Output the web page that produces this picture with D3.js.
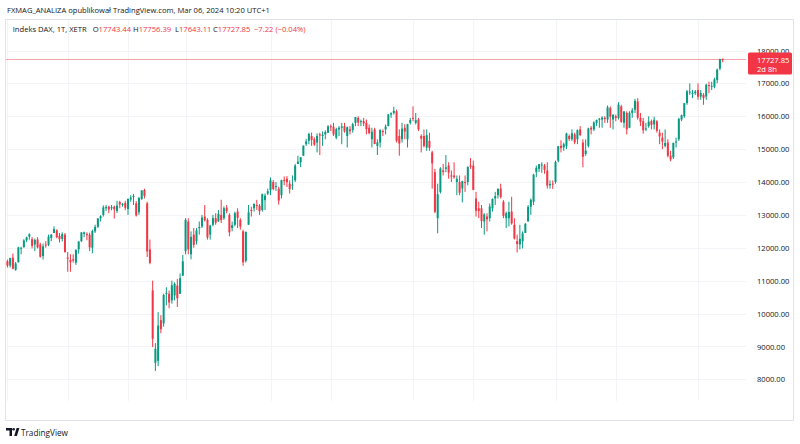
<!DOCTYPE html>
<html><head><meta charset="utf-8">
<script src="https://cdn.jsdelivr.net/npm/d3@7/dist/d3.min.js"></script>
<style>
html,body{margin:0;padding:0;background:#fff;}
svg{display:block;font-family:"Open Sans","Noto Sans",sans-serif;}
</style></head>
<body>
<svg id="c" width="800" height="444"></svg>
<script>
// ---------- DATA (weekly DAX candles, XETR) ----------
const weeks = [
"2019-03-04","2019-03-11","2019-03-18","2019-03-25","2019-04-01","2019-04-08","2019-04-15","2019-04-22","2019-04-29","2019-05-06","2019-05-13","2019-05-20","2019-05-27","2019-06-03","2019-06-10","2019-06-17","2019-06-24","2019-07-01","2019-07-08","2019-07-15","2019-07-22","2019-07-29","2019-08-05","2019-08-12","2019-08-19","2019-08-26","2019-09-02","2019-09-09","2019-09-16","2019-09-23","2019-09-30","2019-10-07","2019-10-14","2019-10-21","2019-10-28","2019-11-04","2019-11-11","2019-11-18","2019-11-25","2019-12-02","2019-12-09","2019-12-16","2019-12-23","2019-12-30",
"2020-01-06","2020-01-13","2020-01-20","2020-01-27","2020-02-03","2020-02-10","2020-02-17","2020-02-24","2020-03-02","2020-03-09","2020-03-16","2020-03-23","2020-03-30","2020-04-06","2020-04-13","2020-04-20","2020-04-27","2020-05-04","2020-05-11","2020-05-18","2020-05-25","2020-06-01","2020-06-08","2020-06-15","2020-06-22","2020-06-29","2020-07-06","2020-07-13","2020-07-20","2020-07-27","2020-08-03","2020-08-10","2020-08-17","2020-08-24","2020-08-31","2020-09-07","2020-09-14","2020-09-21","2020-09-28","2020-10-05","2020-10-12","2020-10-19","2020-10-26","2020-11-02","2020-11-09","2020-11-16","2020-11-23","2020-11-30","2020-12-07","2020-12-14","2020-12-21","2020-12-28",
"2021-01-04","2021-01-11","2021-01-18","2021-01-25","2021-02-01","2021-02-08","2021-02-15","2021-02-22","2021-03-01","2021-03-08","2021-03-15","2021-03-22","2021-03-29","2021-04-05","2021-04-12","2021-04-19","2021-04-26","2021-05-03","2021-05-10","2021-05-17","2021-05-24","2021-05-31","2021-06-07","2021-06-14","2021-06-21","2021-06-28","2021-07-05","2021-07-12","2021-07-19","2021-07-26","2021-08-02","2021-08-09","2021-08-16","2021-08-23","2021-08-30","2021-09-06","2021-09-13","2021-09-20","2021-09-27","2021-10-04","2021-10-11","2021-10-18","2021-10-25","2021-11-01","2021-11-08","2021-11-15","2021-11-22","2021-11-29","2021-12-06","2021-12-13","2021-12-20","2021-12-27",
"2022-01-03","2022-01-10","2022-01-17","2022-01-24","2022-01-31","2022-02-07","2022-02-14","2022-02-21","2022-02-28","2022-03-07","2022-03-14","2022-03-21","2022-03-28","2022-04-04","2022-04-11","2022-04-18","2022-04-25","2022-05-02","2022-05-09","2022-05-16","2022-05-23","2022-05-30","2022-06-06","2022-06-13","2022-06-20","2022-06-27","2022-07-04","2022-07-11","2022-07-18","2022-07-25","2022-08-01","2022-08-08","2022-08-15","2022-08-22","2022-08-29","2022-09-05","2022-09-12","2022-09-19","2022-09-26","2022-10-03","2022-10-10","2022-10-17","2022-10-24","2022-10-31","2022-11-07","2022-11-14","2022-11-21","2022-11-28","2022-12-05","2022-12-12","2022-12-19","2022-12-26",
"2023-01-02","2023-01-09","2023-01-16","2023-01-23","2023-01-30","2023-02-06","2023-02-13","2023-02-20","2023-02-27","2023-03-06","2023-03-13","2023-03-20","2023-03-27","2023-04-03","2023-04-10","2023-04-17","2023-04-24","2023-05-01","2023-05-08","2023-05-15","2023-05-22","2023-05-29","2023-06-05","2023-06-12","2023-06-19","2023-06-26","2023-07-03","2023-07-10","2023-07-17","2023-07-24","2023-07-31","2023-08-07","2023-08-14","2023-08-21","2023-08-28","2023-09-04","2023-09-11","2023-09-18","2023-09-25","2023-10-02","2023-10-09","2023-10-16","2023-10-23","2023-10-30","2023-11-06","2023-11-13","2023-11-20","2023-11-27","2023-12-04","2023-12-11","2023-12-18","2023-12-25",
"2024-01-01","2024-01-08","2024-01-15","2024-01-22","2024-01-29","2024-02-05","2024-02-12","2024-02-19","2024-02-26","2024-03-04"
];
const opens = [
11590,11460,11700,11330,11560,11990,12020,12230,12340,12260,12100,12250,12100,11750,12100,12090,12300,12450,12530,12360,12270,12400,11700,11630,11650,11550,11950,12200,12420,12420,12400,12000,12500,12640,12900,13000,13200,13250,13200,13250,13120,13390,13320,13360,
13180,13470,13560,13350,13080,13480,13760,13350,11950,10700,8500,8560,9800,9700,10600,10600,10400,10550,10850,10600,11150,11900,12800,11800,12400,12200,12600,12650,12950,12850,12400,12700,12900,12800,13000,12900,13220,13000,12600,12700,13100,12850,12500,11600,12700,13150,13200,13300,13280,13150,13450,13650,
13750,14000,13850,13800,13600,14060,14100,13950,13900,14050,14550,14600,14800,15150,15250,15400,15300,15200,15450,15400,15450,15500,15700,15680,15350,15600,15650,15700,15400,15600,15580,15800,15950,15850,15850,15800,15650,15300,15600,15100,15200,15550,15600,15700,16050,16100,16150,15400,15300,15650,15300,15800,
15950,15800,15900,15400,15400,15050,15250,14900,14300,12900,13700,14350,14400,14500,14200,14200,14000,14000,13800,14000,14000,14500,14500,13500,13200,13200,12800,12950,12900,13200,13500,13600,13800,13400,12900,12900,13100,12700,12200,12100,12200,12450,12800,13250,13400,14300,14400,14500,14500,14350,13900,13950,
14000,14650,15100,15050,15100,15400,15300,15450,15300,15600,15200,14850,15100,15650,15600,15800,15900,15900,15950,15900,16250,15900,16000,15950,16300,15800,16100,15650,16100,16200,16450,15950,15850,15600,15700,15850,15750,15850,15500,15350,15100,15200,14800,14750,15200,15300,15900,16000,16400,16750,16700,16700,
16800,16600,16650,16600,16950,16900,16900,17100,17450,17743.44
];
const highs = [
11640,11700,11825,11570,12030,12030,12260,12340,12440,12330,12280,12320,12150,12130,12200,12400,12420,12650,12560,12450,12470,12450,11870,11800,11800,11950,12200,12470,12490,12470,12460,12550,12700,12900,12990,13290,13300,13280,13300,13280,13430,13430,13360,13430,
13500,13600,13640,13420,13550,13750,13795,13400,12250,11000,9100,10040,9950,10600,10800,10700,11000,10950,11050,11220,11780,12900,12900,12500,12600,12600,12800,13000,13300,12900,12700,13000,13050,13150,13460,13260,13300,13050,12800,13100,13200,12900,12550,12500,13300,13250,13350,13460,13330,13650,13650,13800,
14140,14060,14000,13860,14070,14170,14180,14050,14200,14550,14800,14760,15110,15310,15500,15500,15360,15480,15500,15540,15570,15730,15750,15800,15650,15700,15800,15800,15690,15700,15800,15980,16000,15900,15950,15900,15750,15650,15650,15300,15600,15600,15750,16070,16120,16290,16200,15600,15800,15760,15770,15950,
16300,16100,15950,15450,15600,15600,15500,14950,14400,13950,14450,14550,14820,14600,14350,14600,14200,14200,14040,14200,14470,14730,14650,13700,13400,13300,13050,13050,13350,13500,13700,13800,13950,13450,13100,13400,13550,12900,12400,12700,12500,12750,13300,13500,14250,14500,14550,14600,14550,14600,14050,14050,
14650,15100,15270,15200,15500,15450,15600,15500,15600,15700,15300,15300,15650,15700,15850,15900,15950,16000,16000,16330,16300,16050,16050,16430,16350,16150,16150,16150,16250,16530,16550,16100,15950,15800,16000,15900,15990,15880,15600,15500,15600,15300,14950,15200,15350,15950,16050,16400,16800,17000,16800,16800,
17000,16800,16700,16990,17050,17050,17170,17450,17750,17756.39
];
const lows = [
11400,11400,11350,11300,11550,11800,12000,12170,12250,11980,11900,11980,11700,11640,12000,12050,12200,12450,12290,12160,12190,11850,11270,11270,11550,11480,11820,12180,12320,12230,11900,11830,12450,12600,12800,12950,13120,13050,13140,12890,13060,13200,13250,13140,
13000,13400,13300,12950,13000,13460,13500,11720,11500,8980,8255,8400,9400,9600,10250,10160,10300,10400,10200,10600,11150,11800,11800,11650,12000,12100,12400,12600,12800,12250,12250,12650,12700,12790,12750,12850,13050,12350,12500,12650,12600,12550,11450,11550,12700,12950,13100,13150,13000,13100,13150,13600,
13600,13750,13730,13310,13500,13900,13850,13650,13760,14000,14550,14450,14800,15100,15150,15100,15100,14900,14820,15100,15300,15500,15550,15400,15300,15400,15150,15500,15050,15450,15500,15700,15700,15700,15700,15450,15450,15050,15150,14820,15050,15400,15450,15700,15950,16050,15200,14800,15200,15300,15050,15750,
15850,15750,15550,14900,15050,14950,14950,13800,13050,12440,13650,14200,14300,14100,14000,14100,13600,13600,13380,13700,13900,14400,13750,12950,12900,12600,12400,12500,12800,13100,13300,13500,13500,12900,12600,12650,12700,12250,11860,11950,11980,12450,12800,13000,13300,14150,14300,14280,14250,13800,13800,13790,
13950,14600,14900,14950,15000,15250,15250,15150,15150,15400,14450,14800,15050,15450,15550,15700,15650,15650,15800,15800,15650,15600,15850,15900,15800,15650,15450,15650,15950,16100,15900,15700,15470,15550,15650,15600,15600,15500,15150,15000,15050,14750,14630,14700,15050,15250,15850,15950,16350,16650,16550,16650,
16500,16500,16350,16500,16700,16800,16850,17000,17400,17643.11
];
const closes = [
11458,11686,11364,11526,12010,11999,12222,12315,12413,12060,12239,12011,11727,12045,12096,12340,12399,12568,12323,12260,12419,11872,11693,11562,11612,11939,12191,12469,12468,12381,12013,12512,12634,12895,12961,13229,13242,13164,13236,13167,13283,13319,13337,13219,
13483,13526,13577,12982,13514,13745,13579,11890,11542,9232,8929,9633,9526,10565,10626,10337,10862,10904,10465,11074,11587,12848,11949,12331,12089,12528,12633,12920,12838,12313,12675,12901,12765,13033,12843,13202,13116,12469,12689,13051,12909,12646,11556,12480,13077,13137,13336,13299,13114,13631,13587,13719,
14050,13788,13874,13433,14057,14050,13993,13786,13921,14502,14621,14749,15107,15234,15460,15280,15136,15400,15417,15438,15520,15693,15693,15448,15608,15650,15688,15540,15669,15544,15761,15977,15808,15852,15781,15609,15490,15531,15156,15206,15587,15543,15688,16054,16094,16160,15257,15169,15623,15532,15756,15885,
15948,15883,15603,15318,15100,15425,15042,14567,13094,13628,14413,14306,14446,14284,14164,14142,14098,13674,14027,13982,14462,14461,13762,13126,13118,12813,13015,12864,13254,13484,13573,13795,13544,12971,13050,13088,12741,12284,12114,12273,12438,12731,13243,13460,14225,14431,14541,14529,14371,13893,13941,13924,
14610,15087,15034,15150,15476,15308,15482,15210,15578,15428,14768,14957,15629,15598,15808,15882,15922,15961,15914,16275,15984,16051,15950,16358,15830,16148,15603,16105,16178,16469,15952,15832,15575,15632,15840,15740,15894,15557,15387,15230,15187,14798,14687,15189,15234,15919,16030,16398,16759,16751,16706,16752,
16594,16705,16555,16961,16918,16926,17117,17419,17735,17727.85
];
const priceTicks = [8000,9000,10000,11000,12000,13000,14000,15000,16000,17000,18000];
const timeTickDates = ["2019-03-04","2019-08-05","2020-01-06","2020-06-01","2021-01-04","2021-06-07","2022-01-03","2022-06-06","2023-01-02","2023-06-05","2024-01-01"];
const timeTickLabels = ["Mar","Sie","2020","Cze","2021","Cze","2022","Cze","2023","Cze","2024"];
const lastPrice = 17727.85;

// ---------- LAYOUT ----------
const svg = d3.select("#c");
const frame = {x0:5, y0:19, x1:793, y1:420};
const pane = {x0:5, x1:746, y0:19, y1:401};
const UP = "#089981", DOWN = "#f23645";
const INK = "#131722";
const parse = d3.utcParse("%Y-%m-%d");

const x = d3.scaleUtc().domain([parse("2020-01-06"), parse("2024-01-01")]).range([128, 698]);
const y = d3.scaleLinear().domain([8000, 18000]).range([379.3, 50.5]);

const data = weeks.map((w,i)=>({d:parse(w), o:opens[i], h:highs[i], l:lows[i], c:closes[i]}));

// scale a text's font-size so it spans a given width
function fit(sel, w){
  const n = sel.node(); const fs = parseFloat(sel.attr("font-size"));
  const L = n.getComputedTextLength(); if (L>0) sel.attr("font-size", (fs*w/L).toFixed(2)+"px");
  return sel;
}

svg.append("rect").attr("x",0).attr("y",0).attr("width",800).attr("height",444).attr("fill","#fff");

const defs = svg.append("defs");
defs.append("clipPath").attr("id","pclip").append("rect")
  .attr("x",pane.x0+0.5).attr("y",pane.y0).attr("width",pane.x1-pane.x0).attr("height",pane.y1-pane.y0);
defs.append("clipPath").attr("id","tclip").append("rect")
  .attr("x",6.5).attr("y",pane.y1).attr("width",pane.x1-6).attr("height",frame.y1-pane.y1);

// grid
const grid = svg.append("g").attr("clip-path","url(#pclip)");
grid.selectAll("line.h").data(priceTicks).join("line")
  .attr("x1",pane.x0).attr("x2",pane.x1)
  .attr("y1",d=>Math.round(y(d))+0.5).attr("y2",d=>Math.round(y(d))+0.5)
  .attr("stroke","#f3f4f7").attr("stroke-width",1);
grid.selectAll("line.v").data(timeTickDates).join("line")
  .attr("x1",d=>Math.round(x(parse(d)))+0.5).attr("x2",d=>Math.round(x(parse(d)))+0.5)
  .attr("y1",pane.y0).attr("y2",pane.y1)
  .attr("stroke","#f3f4f7").attr("stroke-width",1);

// price line
svg.append("line")
  .attr("x1",pane.x0).attr("x2",pane.x1)
  .attr("y1",Math.round(y(lastPrice))+0.5).attr("y2",Math.round(y(lastPrice))+0.5)
  .attr("stroke","#f5a3aa").attr("stroke-width",1);

// candles
const cg = svg.append("g").attr("clip-path","url(#pclip)");
const candles = cg.selectAll("g").data(data).join("g");
candles.append("line")
  .attr("x1",d=>x(d.d)).attr("x2",d=>x(d.d))
  .attr("y1",d=>y(d.h)).attr("y2",d=>y(d.l))
  .attr("stroke",d=>d.c>=d.o?UP:DOWN).attr("stroke-width",1);
candles.append("rect")
  .attr("x",d=>x(d.d)-1).attr("width",2)
  .attr("y",d=>Math.min(y(d.o),y(d.c)))
  .attr("height",d=>Math.max(1,Math.abs(y(d.o)-y(d.c))))
  .attr("fill",d=>d.c>=d.o?UP:DOWN);

// price axis
const yAxis = d3.axisRight(y).tickValues(priceTicks).tickSize(0).tickPadding(0)
  .tickFormat(d=>d3.format(".2f")(d));
const ya = svg.append("g").attr("transform","translate(757,0)").call(yAxis);
ya.select(".domain").remove();
ya.selectAll("text").attr("fill",INK).attr("font-size","7.6px")
  .attr("font-family","'Open Sans','Noto Sans',sans-serif").attr("dy","0.34em");

// last price label
svg.append("rect").attr("x",748).attr("y",52.5).attr("width",44).attr("height",22)
  .attr("rx",1.5).attr("fill",DOWN);
svg.append("text").attr("x",757).attr("y",63.2).attr("fill","#fff").attr("font-size","7.6px")
  .text(d3.format(".2f")(lastPrice));
svg.append("text").attr("x",757).attr("y",72.2).attr("fill","#fff").attr("font-size","7.6px")
  .text("2d 8h");

// time axis
const xAxis = d3.axisBottom(x).tickValues(timeTickDates.map(parse)).tickSize(0).tickPadding(0)
  .tickFormat((d,i)=>timeTickLabels[i]);
const xa = svg.append("g").attr("transform","translate(0,407)").attr("clip-path","url(#tclip)").call(xAxis);
xa.select(".domain").remove();
xa.selectAll("text").attr("fill",INK).attr("font-size","7.8px")
  .attr("font-family","'Open Sans','Noto Sans',sans-serif")
  .attr("font-weight",(d,i)=>/^\d{4}$/.test(timeTickLabels[i])?"bold":"normal");

// frame
svg.append("rect").attr("x",frame.x0+0.5).attr("y",frame.y0+0.5)
  .attr("width",frame.x1-frame.x0).attr("height",frame.y1-frame.y0)
  .attr("fill","none").attr("stroke","#e0e3eb").attr("stroke-width",1);

// header
fit(svg.append("text").attr("x",7).attr("y",13).attr("fill",INK).attr("font-size","8px")
  .text("FXMAG_ANALIZA opublikował TradingView.com, Mar 06, 2024 10:20 UTC+1"), 263);

const legendParts = [
  ["Indeks DAX, 1T, XETR", INK, 12.7],
  ["O", INK, 92.7], ["17743.44", DOWN, null],
  ["H", INK, 133], ["17756.39", DOWN, null],
  ["L", INK, 175], ["17643.11", DOWN, null],
  ["C", INK, 213], ["17727.85", DOWN, null],
  ["−7.22 (−0.04%)", DOWN, 254]
];
const probe = fit(svg.append("text").attr("x",12.7).attr("y",31.5).attr("font-size","8px")
  .attr("fill",INK).text(legendParts[0][0]), 74);
const legFs = probe.attr("font-size");
probe.remove();
const leg = svg.append("text").attr("y",31.5).attr("font-size",legFs).attr("fill",INK);
legendParts.forEach(([t,col,px])=>{
  const ts = leg.append("tspan").attr("fill",col).text(t);
  if (px!==null) ts.attr("x",px);
});

// TradingView logo
const logo = svg.append("g").attr("transform","translate(6,428)");
logo.append("path").attr("d","M0 0 H6 V8 H3.5 V2.4 H0 Z").attr("fill",INK);
logo.append("circle").attr("cx",7.6).attr("cy",1.3).attr("r",1.3).attr("fill",INK);
logo.append("path").attr("d","M8.2 8 L10.6 0 H13.4 L10.9 8 Z").attr("fill",INK);
fit(svg.append("text").attr("x",21).attr("y",436).attr("fill",INK).attr("font-size","9px")
  .text("TradingView"), 47);
</script>
</body></html>
